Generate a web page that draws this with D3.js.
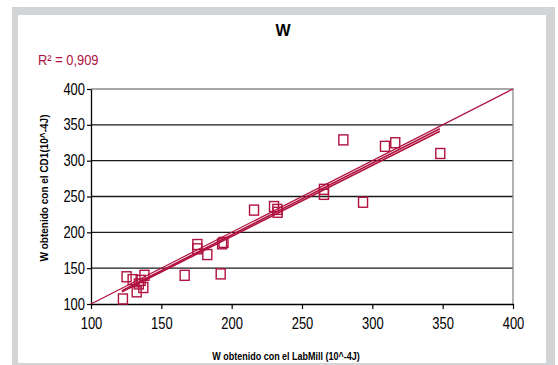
<!DOCTYPE html>
<html>
<head>
<meta charset="utf-8">
<script src="https://cdn.jsdelivr.net/npm/d3@7"></script>
<style>
  body { margin: 0; background: #fff; }
  svg text { font-family: "Liberation Sans", Arial, sans-serif; }
</style>
</head>
<body>
<div id="chart"></div>
<script>
// data (W, 10^-4 J)
const labMill = [122.7, 125.3, 129.6, 132.5, 135.3, 137.2, 138.0, 134.0, 166.6, 192.2,
  175.6, 175.6, 182.7, 194.2, 193.2, 215.9, 230.1, 232.7, 232.5, 265.6,
  265.6, 279.4, 293.4, 309.0, 316.3, 348.3];
const cd1 = [107, 138, 134, 117, 133, 123, 140, 128, 140, 142,
  183, 177, 169, 186, 184, 231, 236, 228, 232, 260,
  253, 329, 242, 320, 325, 310];
const trendA = [[122, 118.5], [348, 344.5]];
const trendB = [[122, 117], [348, 341]];
const identity = [[100, 100], [400, 400]];
const ticks = [100, 150, 200, 250, 300, 350, 400];
const r2Label = "R² = 0,909";

const width = 558;
const height = 365;
const red = "#b0123f";
const narrow = 0.81; // no narrow font installed, squeeze instead

const svg = d3.select("#chart").append("svg")
  .attr("width", width)
  .attr("height", height);

// frame
svg.append("rect")
  .attr("x", 12).attr("y", 7)
  .attr("width", 543).attr("height", 365)
  .style("fill", "#d3d4d6");
svg.append("rect")
  .attr("x", 18).attr("y", 15)
  .attr("width", 528).attr("height", 348)
  .style("fill", "#fff");

const x = d3.scaleLinear().domain([100, 400]).range([91, 513]);
const y = d3.scaleLinear().domain([100, 400]).range([304, 89]);

// grid lines
svg.append("g").selectAll("line").data(ticks.slice(1, -1)).enter().append("line")
  .attr("x1", x(100)).attr("x2", x(400))
  .attr("y1", (d) => y(d)).attr("y2", (d) => y(d))
  .style("stroke", "#1a1a1a")
  .style("stroke-width", 1.3);

// top and right border of plot
svg.append("path")
  .attr("d", `M${x(100)},${y(400)}H${x(400)}V${y(100)}`)
  .style("fill", "none")
  .style("stroke", "#8a8a8a")
  .style("stroke-width", 1.3);

// axes
const xAxis = svg.append("g")
  .attr("transform", `translate(0,${y(100)})`)
  .call(d3.axisBottom(x).tickValues(ticks).tickSize(5).tickSizeOuter(0));
const yAxis = svg.append("g")
  .attr("transform", `translate(${x(100)},0)`)
  .call(d3.axisLeft(y).tickValues(ticks).tickSize(4).tickSizeOuter(0));

[xAxis, yAxis].forEach((a) => {
  a.select(".domain").style("stroke", "#000").style("stroke-width", 1.3);
  a.selectAll(".tick line").style("stroke", "#000").style("stroke-width", 1.2);
  a.selectAll(".tick text")
    .attr("transform", `scale(${narrow},1)`)
    .style("font-size", "16px")
    .style("fill", "#000")
    .style("font-family", "\"Liberation Sans\", Arial, sans-serif");
});
xAxis.selectAll(".tick text").attr("y", 14);
yAxis.selectAll(".tick text").attr("x", -6 / narrow);

const line = d3.line().x((d) => x(d[0])).y((d) => y(d[1]));

// y = x reference line
svg.append("path")
  .attr("d", line(identity))
  .style("fill", "none")
  .style("stroke", red)
  .style("stroke-width", 1.2);

// points
svg.append("g").selectAll("rect").data(labMill).enter().append("rect")
  .attr("x", (d) => x(d) - 4.5)
  .attr("y", (d, i) => y(cd1[i]) - 5)
  .attr("width", 9)
  .attr("height", 10)
  .style("fill", "none")
  .style("stroke", red)
  .style("stroke-width", 1.4);

// trend lines
[trendA, trendB].forEach((t) => {
  svg.append("path")
    .attr("d", line(t))
    .style("fill", "none")
    .style("stroke", red)
    .style("stroke-width", 1.6);
});

// title
svg.append("text")
  .attr("x", 283).attr("y", 36)
  .attr("text-anchor", "middle")
  .style("font-weight", "bold")
  .style("font-size", "16px")
  .text("W");

svg.append("text")
  .attr("transform", "translate(38,65) scale(0.86,1)")
  .style("font-size", "15px")
  .style("fill", red)
  .text(r2Label);

// axis titles
svg.append("text")
  .attr("transform", "translate(286,360) scale(0.9,1)")
  .attr("text-anchor", "middle")
  .style("font-weight", "bold")
  .style("font-size", "10px")
  .text("W obtenido con el LabMill (10^-4J)");

svg.append("text")
  .attr("transform", "translate(48,188) rotate(-90)")
  .attr("text-anchor", "middle")
  .style("font-weight", "bold")
  .style("font-size", "10px")
  .text("W  obtenido con el CD1(10^-4J)");
</script>
</body>
</html>
